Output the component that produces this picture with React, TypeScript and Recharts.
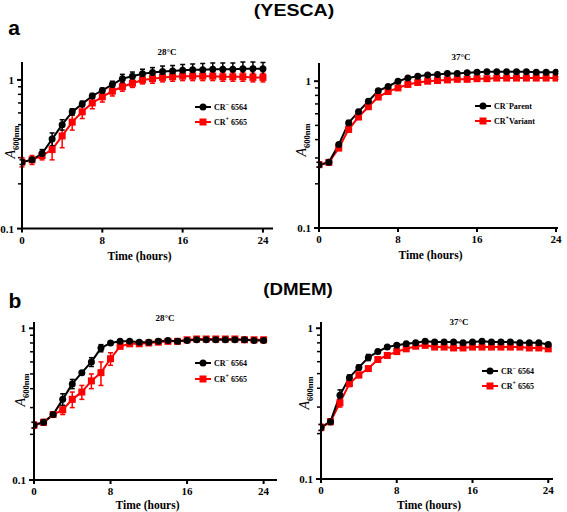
import { LineChart, Line, XAxis, YAxis, ErrorBar, Legend, Label, ReferenceLine } from "recharts";

const hours = [0, 1, 2, 3, 4, 5, 6, 7, 8, 9, 10, 11, 12, 13, 14, 15, 16, 17, 18, 19, 20, 21, 22, 23, 24];

// YESCA 28°C
const yesca28Neg = [0.28, 0.29, 0.32, 0.4, 0.5, 0.61, 0.69, 0.78, 0.85, 0.93, 1.02, 1.06, 1.1, 1.12, 1.14, 1.15, 1.16, 1.17, 1.17, 1.18, 1.18, 1.18, 1.19, 1.19, 1.19];
const yesca28NegErr = [0.01, 0.01, 0.02, 0.04, 0.04, 0.03, 0.03, 0.03, 0.03, 0.05, 0.07, 0.07, 0.08, 0.09, 0.1, 0.1, 0.11, 0.11, 0.12, 0.12, 0.12, 0.12, 0.13, 0.13, 0.12];
const yesca28Pos = [0.28, 0.29, 0.31, 0.34, 0.42, 0.52, 0.61, 0.7, 0.77, 0.84, 0.9, 0.95, 1.0, 1.02, 1.04, 1.05, 1.06, 1.06, 1.06, 1.06, 1.05, 1.05, 1.05, 1.04, 1.04];
const yesca28PosErr = [0.02, 0.02, 0.02, 0.05, 0.07, 0.06, 0.06, 0.06, 0.06, 0.06, 0.06, 0.06, 0.06, 0.07, 0.07, 0.07, 0.07, 0.07, 0.07, 0.07, 0.07, 0.07, 0.07, 0.07, 0.07];

// YESCA 37°C
const yesca37Neg = [0.27, 0.28, 0.37, 0.52, 0.62, 0.73, 0.86, 0.92, 1.0, 1.05, 1.08, 1.1, 1.11, 1.13, 1.13, 1.14, 1.15, 1.16, 1.16, 1.16, 1.16, 1.16, 1.15, 1.15, 1.15];
const yesca37NegErr = [0.01, 0.01, 0.01, 0.02, 0.02, 0.02, 0.02, 0.02, 0.02, 0.02, 0.02, 0.02, 0.02, 0.02, 0.02, 0.02, 0.02, 0.02, 0.02, 0.02, 0.02, 0.02, 0.02, 0.02, 0.02];
const yesca37Pos = [0.27, 0.28, 0.35, 0.47, 0.57, 0.67, 0.78, 0.85, 0.9, 0.95, 0.98, 1.0, 1.01, 1.02, 1.03, 1.03, 1.04, 1.04, 1.05, 1.05, 1.05, 1.05, 1.05, 1.05, 1.05];
const yesca37PosErr = [0.01, 0.01, 0.01, 0.02, 0.02, 0.02, 0.02, 0.02, 0.02, 0.02, 0.02, 0.02, 0.02, 0.02, 0.02, 0.02, 0.02, 0.02, 0.02, 0.02, 0.02, 0.02, 0.02, 0.02, 0.02];

// DMEM 28°C
const dmem28Neg = [0.23, 0.24, 0.27, 0.34, 0.43, 0.51, 0.6, 0.74, 0.8, 0.82, 0.82, 0.81, 0.81, 0.82, 0.83, 0.82, 0.83, 0.84, 0.84, 0.84, 0.84, 0.84, 0.84, 0.83, 0.83];
const dmem28NegErr = [0.01, 0.01, 0.01, 0.03, 0.03, 0.01, 0.04, 0.04, 0.01, 0.01, 0.01, 0.01, 0.01, 0.01, 0.01, 0.01, 0.01, 0.01, 0.01, 0.01, 0.01, 0.01, 0.01, 0.01, 0.01];
const dmem28Pos = [0.23, 0.24, 0.27, 0.29, 0.34, 0.38, 0.45, 0.51, 0.63, 0.76, 0.79, 0.79, 0.8, 0.81, 0.82, 0.82, 0.84, 0.85, 0.85, 0.85, 0.85, 0.85, 0.84, 0.84, 0.84];
const dmem28PosErr = [0.01, 0.01, 0.01, 0.02, 0.04, 0.04, 0.05, 0.09, 0.06, 0.02, 0.02, 0.02, 0.02, 0.02, 0.02, 0.02, 0.02, 0.02, 0.02, 0.02, 0.02, 0.02, 0.02, 0.02, 0.02];

// DMEM 37°C
const dmem37Neg = [0.22, 0.24, 0.36, 0.47, 0.55, 0.64, 0.7, 0.75, 0.77, 0.79, 0.8, 0.82, 0.81, 0.81, 0.81, 0.8, 0.81, 0.82, 0.81, 0.81, 0.81, 0.8, 0.8, 0.8, 0.78];
const dmem37NegErr = [0.01, 0.01, 0.03, 0.02, 0.02, 0.03, 0.02, 0.01, 0.02, 0.01, 0.01, 0.01, 0.01, 0.01, 0.01, 0.01, 0.01, 0.01, 0.01, 0.01, 0.01, 0.01, 0.01, 0.01, 0.01];
const dmem37Pos = [0.22, 0.24, 0.32, 0.43, 0.49, 0.54, 0.62, 0.66, 0.7, 0.73, 0.76, 0.77, 0.75, 0.75, 0.74, 0.74, 0.75, 0.75, 0.75, 0.75, 0.75, 0.75, 0.74, 0.74, 0.73];
const dmem37PosErr = [0.01, 0.01, 0.02, 0.02, 0.02, 0.02, 0.02, 0.02, 0.02, 0.02, 0.02, 0.02, 0.02, 0.02, 0.02, 0.02, 0.02, 0.02, 0.02, 0.02, 0.02, 0.02, 0.02, 0.02, 0.02];

const yTicks = [0.1, 1];
const yMinorTicks = [0.2, 0.3, 0.4, 0.5, 0.6, 0.7, 0.8, 0.9];
const xTicks = [0, 8, 16, 24];

const serif = '"Liberation Serif", "Times New Roman", serif';
const sans = '"Liberation Sans", Arial, sans-serif';

const YTick = ({ x, y, payload }: any) => (
    <g>
        <line x1={x - 5} x2={x} y1={y} y2={y} stroke="#000" strokeWidth={2} />
        <text x={x - 8} y={y} dy={4} textAnchor="end" fontFamily={serif} fontWeight="bold" fontSize={11} fill="#000">
            {payload.value}
        </text>
    </g>
);

// minor log tick: short stub left of the y axis
const MinorTick = (props: any) => {
    const { x1, y1 } = props;
    if (x1 == null || y1 == null) return <g />;
    return <line x1={x1 - 4} x2={x1} y1={y1} y2={y1} stroke="#000" strokeWidth={1.5} />;
};

const XTick = ({ x, y, payload }: any) => (
    <g>
        <line x1={x} x2={x} y1={y} y2={y + 4} stroke="#000" strokeWidth={2} />
        <text x={x} y={y + 15} textAnchor="middle" fontFamily={serif} fontWeight="bold" fontSize={11} fill="#000">
            {payload.value}
        </text>
    </g>
);

const Circle = (props: any) => {
    const { cx, cy, index } = props;
    if (cx == null || cy == null) return <g key={index} />;
    return <circle key={index} cx={cx} cy={cy} r={3.5} fill="#000" />;
};

const Square = (props: any) => {
    const { cx, cy, index } = props;
    if (cx == null || cy == null) return <g key={index} />;
    return <rect key={index} x={cx - 3.5} y={cy - 3.5} width={7} height={7} fill="#ff0000" />;
};

// name like "CR-| 6564": sign goes up as superscript
const LegendName = ({ name }: { name: string }) => {
    const [head, rest] = name.split("|");
    const sign = head.slice(-1) === "-" ? "\u2212" : "+";
    return (
        <span>
            CR<sup style={{ fontSize: 6, verticalAlign: "4px", lineHeight: 0 }}>{sign}</sup>
            {rest}
        </span>
    );
};

const renderLegend = (gap: number) => (props: any) => {
    const items = [...(props.payload || [])].reverse();
    return (
        <div style={{ display: "flex", flexDirection: "column", gap }}>
            {items.map((it: any, i: number) => (
                <div key={i} style={{ display: "flex", alignItems: "center", height: 10 }}>
                    <svg width={16} height={10}>
                        <line x1={0} x2={16} y1={5} y2={5} stroke={it.color} strokeWidth={2} />
                        {it.color === "#000" ? (
                            <circle cx={8} cy={5} r={3.5} fill="#000" />
                        ) : (
                            <rect x={4.5} y={1.5} width={7} height={7} fill="#ff0000" />
                        )}
                    </svg>
                    <span style={{ marginLeft: 3, fontFamily: serif, fontWeight: "bold", fontSize: 8, whiteSpace: "nowrap" }}>
                        <LegendName name={it.value} />
                    </span>
                </div>
            ))}
        </div>
    );
};

type PanelProps = {
    left: number;
    top: number;
    width: number;
    height: number;
    margin: { top: number; right: number; bottom: number; left: number };
    axisHeight: number;
    labelOffset: number;
    xMax: number;
    yMax: number;
    neg: number[];
    negErr: number[];
    pos: number[];
    posErr: number[];
    negName: string;
    posName: string;
    legendLeft: number;
    legendTop: number;
    legendGap: number;
};

const Panel = (p: PanelProps) => {
    const data = hours.map((h, i) => ({
        h,
        neg: p.neg[i],
        negErr: p.negErr[i],
        pos: p.pos[i],
        posErr: p.posErr[i],
    }));
    return (
        <div style={{ position: "absolute", left: p.left, top: p.top }}>
            <LineChart width={p.width} height={p.height} data={data} margin={p.margin}>
                <XAxis
                    dataKey="h"
                    type="number"
                    domain={[0, p.xMax]}
                    ticks={xTicks}
                    allowDataOverflow
                    height={p.axisHeight}
                    tickSize={0}
                    tickMargin={0}
                    tickLine={false}
                    tick={(t: any) => <XTick {...t} />}
                    axisLine={{ stroke: "#000", strokeWidth: 2 }}
                >
                    <Label
                        value="Time (hours)"
                        position="insideBottom"
                        offset={p.labelOffset}
                        dx={-8}
                        style={{ fontFamily: serif, fontWeight: "bold", fontSize: 11.5, fill: "#000" }}
                    />
                </XAxis>
                <YAxis
                    type="number"
                    scale="log"
                    domain={[0.1, p.yMax]}
                    ticks={yTicks}
                    allowDataOverflow
                    width={20}
                    tickSize={0}
                    tickMargin={0}
                    tickLine={false}
                    interval={0}
                    tick={(t: any) => <YTick {...t} />}
                    axisLine={{ stroke: "#000", strokeWidth: 2 }}
                />
                {yMinorTicks.map((v) => (
                    <ReferenceLine key={v} y={v} ifOverflow="visible" shape={(s: any) => <MinorTick {...s} />} />
                ))}
                <Legend
                    layout="vertical"
                    align="center"
                    verticalAlign="middle"
                    content={renderLegend(p.legendGap)}
                    wrapperStyle={{ left: p.legendLeft, top: p.legendTop, width: "auto" }}
                />
                <Line
                    type="linear"
                    dataKey="pos"
                    name={p.posName}
                    stroke="#ff0000"
                    strokeWidth={2}
                    dot={Square}
                    activeDot={false}
                    isAnimationActive={false}
                >
                    <ErrorBar dataKey="posErr" direction="y" width={2.5} stroke="#ff0000" strokeWidth={1.5} />
                </Line>
                <Line
                    type="linear"
                    dataKey="neg"
                    name={p.negName}
                    stroke="#000"
                    strokeWidth={2}
                    dot={Circle}
                    activeDot={false}
                    isAnimationActive={false}
                >
                    <ErrorBar dataKey="negErr" direction="y" width={2.5} stroke="#000" strokeWidth={1.5} />
                </Line>
            </LineChart>
        </div>
    );
};

const Txt = ({ x, y, children, style }: any) => (
    <div
        style={{
            position: "absolute",
            left: x,
            top: y,
            transform: "translate(-50%, -50%)",
            whiteSpace: "nowrap",
            lineHeight: 1,
            ...style,
        }}
    >
        {children}
    </div>
);

const YLabel = ({ x, y }: { x: number; y: number }) => (
    <div
        style={{
            position: "absolute",
            left: x,
            top: y,
            transform: "translate(-50%, -50%) rotate(-90deg)",
            whiteSpace: "nowrap",
            fontFamily: serif,
            lineHeight: 1,
        }}
    >
        <i style={{ fontSize: 14 }}>A</i>
        <sub style={{ fontSize: 8.5, fontWeight: "bold" }}>600nm</sub>
    </div>
);

const headStyle = { fontFamily: sans, fontWeight: "bold", fontSize: 16 };
const letterStyle = { fontFamily: sans, fontWeight: "bold", fontSize: 21 };
const subStyle = { fontFamily: serif, fontWeight: "bold", fontSize: 9 };

export default function App() {
    return (
        <div style={{ position: "absolute", left: 0, top: 0, width: 567, height: 512, background: "#fff", color: "#000", overflow: "hidden" }}>
            <Txt x={294} y={11} style={{ ...headStyle, transform: "translate(-50%, -50%) scaleX(1.22)" }}>(YESCA)</Txt>
            <Txt x={14} y={27} style={letterStyle}>a</Txt>
            <Txt x={298} y={290} style={{ ...headStyle, transform: "translate(-50%, -50%) scaleX(1.17)" }}>(DMEM)</Txt>
            <Txt x={15} y={300} style={letterStyle}>b</Txt>

            <Txt x={167} y={52} style={subStyle}>28°C</Txt>
            <Txt x={461} y={57} style={subStyle}>37°C</Txt>
            <Txt x={165} y={318} style={subStyle}>28°C</Txt>
            <Txt x={459} y={322} style={subStyle}>37°C</Txt>

            <Panel
                left={0}
                top={40}
                width={285}
                height={225}
                margin={{ top: 22, right: 12, bottom: 2.4, left: 2 }}
                axisHeight={34}
                labelOffset={3}
                xMax={25}
                yMax={1.32}
                neg={yesca28Neg}
                negErr={yesca28NegErr}
                pos={yesca28Pos}
                posErr={yesca28PosErr}
                negName="CR-| 6564"
                posName="CR+| 6565"
                legendLeft={195}
                legendTop={62}
                legendGap={5}
            />
            <Panel
                left={290}
                top={40}
                width={277}
                height={225}
                margin={{ top: 23, right: 9, bottom: 3, left: 9 }}
                axisHeight={34}
                labelOffset={3}
                xMax={24.2}
                yMax={1.33}
                neg={yesca37Neg}
                negErr={yesca37NegErr}
                pos={yesca37Pos}
                posErr={yesca37PosErr}
                negName="CR-|Parent"
                posName="CR+|Variant"
                legendLeft={185}
                legendTop={61}
                legendGap={5}
            />
            <Panel
                left={0}
                top={300}
                width={290}
                height={212}
                margin={{ top: 22, right: 13, bottom: 0, left: 14 }}
                axisHeight={32}
                labelOffset={3}
                xMax={25.4}
                yMax={1.1}
                neg={dmem28Neg}
                negErr={dmem28NegErr}
                pos={dmem28Pos}
                posErr={dmem28PosErr}
                negName="CR-| 6564"
                posName="CR+| 6565"
                legendLeft={195}
                legendTop={58}
                legendGap={6}
            />
            <Panel
                left={290}
                top={300}
                width={277}
                height={212}
                margin={{ top: 22, right: 14, bottom: 0, left: 11 }}
                axisHeight={33}
                labelOffset={3}
                xMax={24.5}
                yMax={1.1}
                neg={dmem37Neg}
                negErr={dmem37NegErr}
                pos={dmem37Pos}
                posErr={dmem37PosErr}
                negName="CR-| 6564"
                posName="CR+| 6565"
                legendLeft={192}
                legendTop={66}
                legendGap={5}
            />

            <YLabel x={11} y={142} />
            <YLabel x={302} y={140} />
            <YLabel x={21} y={390} />
            <YLabel x={305} y={393} />
        </div>
    );
}
